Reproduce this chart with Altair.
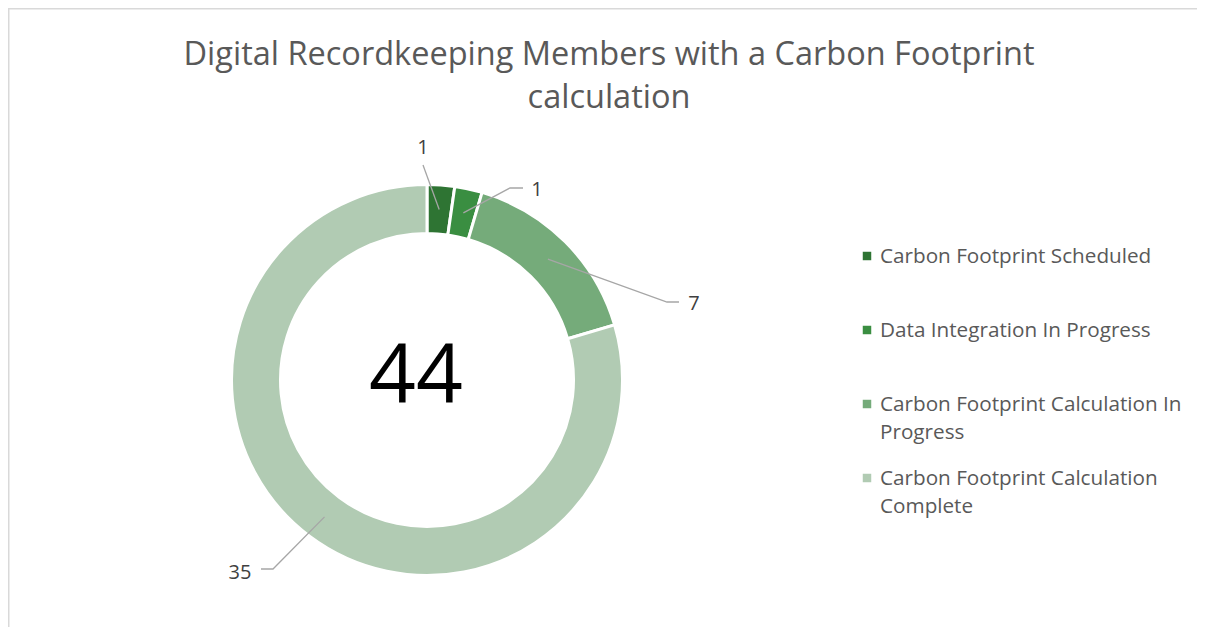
import altair as alt
import pandas as pd
import numpy as np

# ---------------- data ----------------
categories = [
    "Carbon Footprint Scheduled",
    "Data Integration In Progress",
    "Carbon Footprint Calculation In Progress",
    "Carbon Footprint Calculation Complete",
]
values = [1, 1, 7, 35]
colors = ["#2E7433", "#3A8E41", "#75AB7A", "#B1CBB3"]
title_lines = ["Digital Recordkeeping Members with a Carbon Footprint", "calculation"]

# ---------------- layout (view pixels) ----------------
W, H = 1189, 619
CX, CY = 419, 372
R_OUT, R_IN = 194, 148
R_MID = (R_OUT + R_IN) / 2
FONT = "Open Sans"

# leader-line elbows, tails and label anchors for each slice
elbow_pts = [(415, 157), (502, 180), (659, 294), (265, 561)]
tail_pts = [(415, 157), (515, 180), (671, 294), (253, 561)]
label_pts = [(415, 146), (529, 188), (686, 302), (232, 571)]

df = pd.DataFrame({"category": categories, "value": values, "idx": range(len(values))})

total = sum(values)
cum = np.cumsum(values)
mid = (cum - np.array(values) / 2) / total * 2 * np.pi
sx = CX + R_MID * np.sin(mid)
sy = CY - R_MID * np.cos(mid)

line_rows = []
for i in range(len(values)):
    line_rows.append({"slice": i, "ord": 0, "x": sx[i], "y": sy[i]})
    line_rows.append({"slice": i, "ord": 1, "x": elbow_pts[i][0], "y": elbow_pts[i][1]})
    line_rows.append({"slice": i, "ord": 2, "x": tail_pts[i][0], "y": tail_pts[i][1]})
lines_df = pd.DataFrame(line_rows)

labels_df = pd.DataFrame({
    "x": [p[0] for p in label_pts],
    "y": [p[1] for p in label_pts],
    "text": [str(v) for v in values],
})

title_df = pd.DataFrame({"text": title_lines, "line": range(len(title_lines))})

xs = alt.Scale(domain=[0, W], nice=False, zero=False)
ys = alt.Scale(domain=[0, H], nice=False, zero=False, reverse=True)

donut = alt.Chart(df).mark_arc(
    innerRadius=R_IN - 1.5, outerRadius=R_OUT + 1.5, stroke="white", strokeWidth=3
).encode(
    theta=alt.Theta("value:Q", stack=True),
    color=alt.Color("category:N", scale=alt.Scale(domain=categories, range=colors), legend=None),
    order=alt.Order("idx:Q"),
    x=alt.value(CX),
    y=alt.value(CY),
)

leaders = alt.Chart(lines_df).mark_line(color="#A6A6A6", strokeWidth=1.3).encode(
    x=alt.X("x:Q", scale=xs, axis=None),
    y=alt.Y("y:Q", scale=ys, axis=None),
    detail="slice:N",
    order="ord:Q",
)

value_labels = alt.Chart(labels_df).mark_text(
    font=FONT, fontSize=20, color="#404040", align="center", baseline="alphabetic"
).encode(
    x=alt.X("x:Q", scale=xs, axis=None),
    y=alt.Y("y:Q", scale=ys, axis=None),
    text="text:N",
)

center_total = alt.Chart(df).transform_aggregate(total="sum(value)").mark_text(
    font=FONT, fontSize=82, color="#000000", align="center", baseline="alphabetic"
).encode(
    text=alt.Text("total:Q", format="d"),
    x=alt.value(408),
    y=alt.value(395),
)

title = alt.Chart(title_df).transform_calculate(
    ty="57 + datum.line * 43"
).mark_text(
    font=FONT, fontSize=32.5, color="#595959", align="center", baseline="alphabetic"
).encode(
    x=alt.value(601),
    y=alt.Y("ty:Q", scale=ys, axis=None),
    text="text:N",
)

legend_df_calc = "248 + datum.idx * 74"
wrap_expr = (
    "length(datum.category) > 30 ? "
    "substring(datum.category, 0, lastindexof(substring(datum.category, 0, 32), ' ')) + '\\n' + "
    "substring(datum.category, lastindexof(substring(datum.category, 0, 32), ' ') + 1) "
    ": datum.category"
)

legend_sym = alt.Chart(df).transform_calculate(ly=legend_df_calc).mark_square(
    size=72, opacity=1
).encode(
    x=alt.value(859),
    y=alt.Y("ly:Q", scale=ys, axis=None),
    color=alt.Color("category:N", scale=alt.Scale(domain=categories, range=colors), legend=None),
)

legend_txt = alt.Chart(df).transform_calculate(
    ly=legend_df_calc, wrapped=wrap_expr
).mark_text(
    font=FONT, fontSize=20.7, color="#595959", align="left", baseline="alphabetic",
    lineBreak="\n", lineHeight=28, dy=7,
).encode(
    x=alt.value(872),
    y=alt.Y("ly:Q", scale=ys, axis=None),
    text="wrapped:N",
)

one = pd.DataFrame({"a": [0]})
border_left = alt.Chart(one).mark_rule(color="#D9D9D9", strokeWidth=1.5).encode(
    x=alt.value(0.75), y=alt.value(0), y2=alt.value(H)
)
border_top = alt.Chart(one).mark_rule(color="#D9D9D9", strokeWidth=1.5).encode(
    y=alt.value(0.75), x=alt.value(0), x2=alt.value(W)
)

chart = alt.layer(
    border_left, border_top, donut, leaders, value_labels, center_total, title, legend_sym, legend_txt
).properties(
    width=W, height=H, padding=0, autosize="none", background="white"
).configure_view(stroke=None)

chart.save("out.html", embed_options={"renderer": "svg", "actions": False})
